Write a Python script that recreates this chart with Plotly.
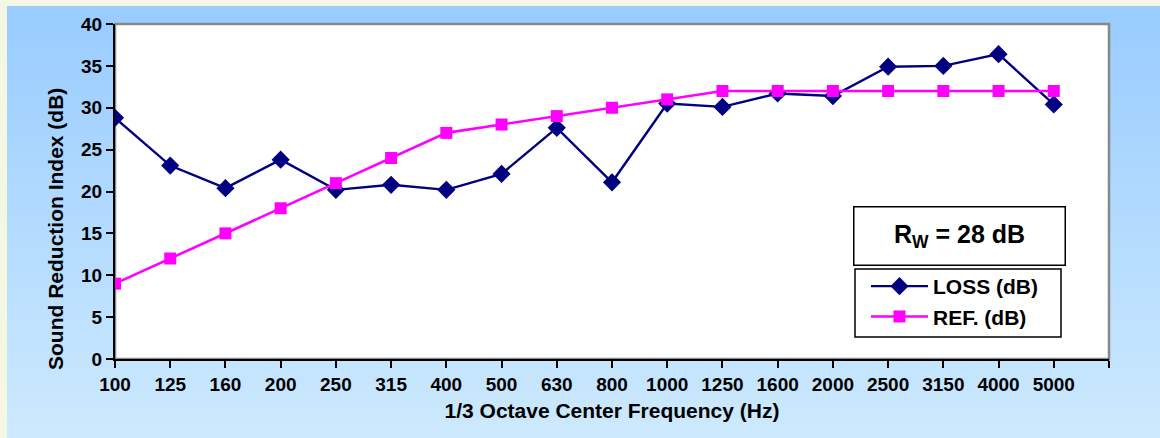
import plotly.graph_objects as go

freqs = ["100", "125", "160", "200", "250", "315", "400", "500", "630", "800",
         "1000", "1250", "1600", "2000", "2500", "3150", "4000", "5000"]
loss = [28.8, 23.1, 20.4, 23.8, 20.2, 20.8, 20.2, 22.1, 27.6, 21.1,
        30.5, 30.1, 31.7, 31.4, 34.9, 35.0, 36.4, 30.4]
ref = [9, 12, 15, 18, 21, 24, 27, 28, 29, 30,
       31, 32, 32, 32, 32, 32, 32, 32]
y_ticks = [0, 5, 10, 15, 20, 25, 30, 35, 40]

W, H = 1160, 438
L, R, T, B = 115, 51, 24, 79
FONT = "Liberation Sans, Arial, sans-serif"

xpos = list(range(len(freqs)))

fig = go.Figure()
fig.add_trace(go.Scatter(
    x=xpos, y=loss, name="LOSS (dB)", mode="lines+markers",
    line=dict(color="#000080", width=2.4),
    marker=dict(symbol="diamond", size=14, color="#000080"),
))
fig.add_trace(go.Scatter(
    x=xpos, y=ref, name="REF. (dB)", mode="lines+markers",
    line=dict(color="#ff00ff", width=2.6),
    marker=dict(symbol="square", size=12, color="#ff00ff"),
))

pw = W - L - R
ph = H - T - B

def px_x(v):
    return (v - L) / pw

def px_y(v):
    return (H - B - v) / ph

# background gradient (decoration)
shapes = []
shapes.append(dict(type="rect", xref="paper", yref="paper",
                   x0=px_x(0), x1=px_x(W), y0=px_y(H), y1=px_y(0),
                   fillcolor="#f4f8e2", line=dict(width=0), layer="below"))
n = 40
top_c = (0x99, 0xcc, 0xff)
bot_c = (0xcc, 0xe9, 0xfd)
ytop = 6
ybot = H
for i in range(n):
    f = i / (n - 1)
    c = tuple(int(round(top_c[k] + (bot_c[k] - top_c[k]) * f)) for k in range(3))
    ya = ytop + (ybot - ytop) * i / n
    yb = ytop + (ybot - ytop) * (i + 1) / n + 0.8
    shapes.append(dict(type="rect", xref="paper", yref="paper",
                       x0=px_x(7), x1=px_x(W), y0=px_y(yb), y1=px_y(ya),
                       fillcolor="rgb(%d,%d,%d)" % c, line=dict(width=0), layer="below"))
# plot area white with gray frame
shapes.append(dict(type="rect", xref="paper", yref="paper", x0=0, x1=1, y0=0, y1=1,
                   fillcolor="white", line=dict(color="#888888", width=2.5), layer="below"))
# legend box
shapes.append(dict(type="rect", xref="paper", yref="paper",
                   x0=px_x(855), x1=px_x(1061), y0=px_y(337), y1=px_y(269),
                   fillcolor="white", line=dict(color="black", width=1.5), layer="above"))

fig.update_layout(
    width=W, height=H,
    margin=dict(l=L, r=R, t=T, b=B),
    paper_bgcolor="#c6e4fc",
    plot_bgcolor="rgba(0,0,0,0)",
    font=dict(family=FONT, color="black", size=18),
    shapes=shapes,
    showlegend=True,
    legend=dict(
        x=px_x(866), y=px_y(266), xanchor="left", yanchor="top",
        bgcolor="rgba(0,0,0,0)", borderwidth=0,
        font=dict(size=21, family=FONT, weight="bold"),
        itemwidth=57, tracegroupgap=0,
    ),
    annotations=[
        dict(
            xref="paper", yref="paper", xanchor="center", yanchor="middle",
            x=px_x(959.5), y=px_y(235.5),
            text="R<sub>W</sub> = 28 dB", showarrow=False,
            font=dict(size=25, family=FONT, weight="bold"),
            bgcolor="white", bordercolor="black", borderwidth=1.5,
            width=208, height=55,
        ),
        dict(
            xref="paper", yref="paper", xanchor="center", yanchor="middle",
            x=px_x(55), y=px_y(229), textangle=-90,
            text="Sound Reduction Index (dB)", showarrow=False,
            font=dict(size=21, family=FONT, weight="bold"),
        ),
    ],
)
fig.update_xaxes(
    range=[0, len(freqs)], tickmode="array",
    tickvals=xpos, ticktext=freqs,
    showgrid=False, zeroline=False, showline=True, linecolor="black", linewidth=2,
    ticks="outside", ticklen=7, tickwidth=2, tickcolor="black",
    minor=dict(tickmode="array", tickvals=[len(freqs)], ticks="outside", ticklen=7,
               tickwidth=2, tickcolor="black", showgrid=False),
    tickfont=dict(size=19, weight="bold"),
    title=dict(text="1/3 Octave Center Frequency (Hz)", font=dict(size=21, weight="bold"), standoff=10),
)
fig.update_yaxes(
    range=[0, 40], tickmode="array", tickvals=y_ticks,
    showgrid=False, zeroline=False, showline=True, linecolor="black", linewidth=2,
    ticks="outside", ticklen=7, tickwidth=2, tickcolor="black",
    tickfont=dict(size=19, weight="bold"),
)

fig.write_html("out.html", config={"displayModeBar": False},
               post_script="document.body.style.margin='0';")
